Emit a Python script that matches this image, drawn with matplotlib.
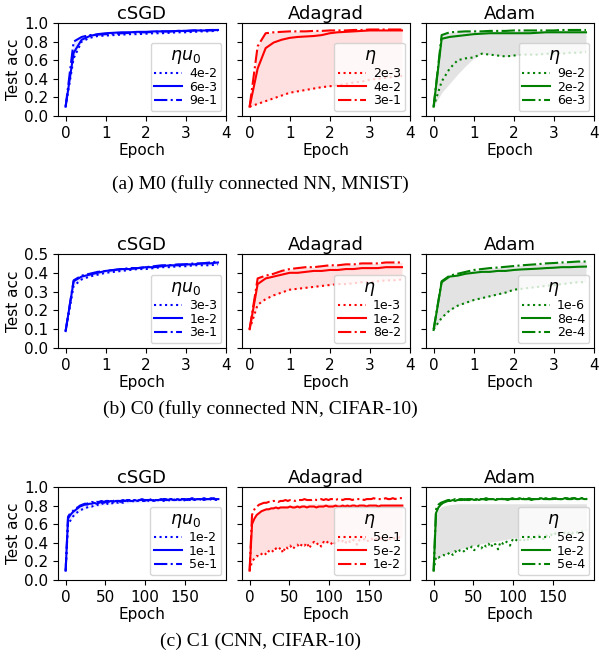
import numpy as np
import matplotlib
matplotlib.use("Agg")
import matplotlib.pyplot as plt

# ---------------- data ----------------
optimizers = ["cSGD", "Adagrad", "Adam"]
colors = ["blue", "red", "green"]
fill_colors = [("blue", 0.10), ("red", 0.12), ("gray", 0.22)]
legend_titles = [r"$\eta u_0$", r"$\eta$", r"$\eta$"]
captions = ["(a) M0 (fully connected NN, MNIST)",
            "(b) C0 (fully connected NN, CIFAR-10)",
            "(c) C1 (CNN, CIFAR-10)"]

# learning-rate labels: [dotted, solid, dash-dot]
m0_labels = [["4e-2", "6e-3", "9e-1"], ["2e-3", "4e-2", "3e-1"], ["9e-2", "2e-2", "6e-3"]]
c0_labels = [["3e-3", "1e-2", "3e-1"], ["1e-3", "1e-2", "8e-2"], ["1e-6", "8e-4", "2e-4"]]
c1_labels = [["1e-2", "1e-1", "5e-1"], ["5e-1", "5e-2", "1e-2"], ["5e-2", "1e-2", "5e-4"]]

# M0 / C0 : evaluated every 0.2 epoch (0 .. 3.8)
epoch_step_short = 0.2
m0_csgd_dot = [0.10, 0.62, 0.80, 0.84, 0.86, 0.865, 0.87, 0.875, 0.88, 0.88, 0.885, 0.89, 0.89, 0.895, 0.90, 0.90, 0.905, 0.91, 0.91, 0.92]
m0_csgd_solid = [0.10, 0.68, 0.82, 0.86, 0.88, 0.89, 0.895, 0.90, 0.90, 0.905, 0.905, 0.91, 0.91, 0.91, 0.915, 0.915, 0.92, 0.92, 0.92, 0.925]
m0_csgd_dash = [0.10, 0.80, 0.85, 0.87, 0.875, 0.88, 0.885, 0.89, 0.895, 0.90, 0.90, 0.905, 0.91, 0.91, 0.915, 0.915, 0.92, 0.92, 0.925, 0.925]

m0_ada_dot = [0.10, 0.13, 0.16, 0.19, 0.22, 0.25, 0.265, 0.28, 0.295, 0.31, 0.32, 0.33, 0.345, 0.36, 0.37, 0.39, 0.40, 0.41, 0.42, 0.43]
m0_ada_solid = [0.10, 0.51, 0.73, 0.79, 0.82, 0.84, 0.85, 0.855, 0.86, 0.87, 0.89, 0.90, 0.905, 0.91, 0.915, 0.92, 0.92, 0.92, 0.92, 0.92]
m0_ada_dash = [0.10, 0.75, 0.89, 0.90, 0.905, 0.91, 0.91, 0.91, 0.915, 0.915, 0.92, 0.92, 0.92, 0.925, 0.925, 0.93, 0.93, 0.93, 0.93, 0.93]

m0_adam_dot = [0.10, 0.37, 0.51, 0.60, 0.62, 0.63, 0.67, 0.66, 0.65, 0.64, 0.65, 0.66, 0.66, 0.66, 0.67, 0.67, 0.67, 0.68, 0.68, 0.69]
m0_adam_solid = [0.10, 0.83, 0.85, 0.86, 0.87, 0.88, 0.885, 0.89, 0.89, 0.89, 0.89, 0.89, 0.89, 0.895, 0.90, 0.90, 0.90, 0.90, 0.90, 0.90]
m0_adam_dash = [0.10, 0.87, 0.90, 0.905, 0.91, 0.91, 0.91, 0.915, 0.915, 0.915, 0.92, 0.92, 0.92, 0.92, 0.92, 0.92, 0.925, 0.925, 0.925, 0.925]
m0_adam_band_lo = [0.10, 0.25, 0.35, 0.45, 0.54, 0.62, 0.67, 0.66, 0.65, 0.64, 0.65, 0.66, 0.66, 0.66, 0.67, 0.67, 0.67, 0.68, 0.68, 0.69]

c0_csgd_dot = [0.09, 0.33, 0.365, 0.38, 0.39, 0.40, 0.405, 0.41, 0.415, 0.42, 0.42, 0.425, 0.43, 0.43, 0.435, 0.435, 0.44, 0.44, 0.44, 0.445]
c0_csgd_solid = [0.09, 0.355, 0.38, 0.39, 0.40, 0.41, 0.415, 0.42, 0.42, 0.425, 0.43, 0.43, 0.435, 0.44, 0.44, 0.445, 0.445, 0.45, 0.45, 0.455]
c0_csgd_dash = [0.09, 0.36, 0.385, 0.395, 0.405, 0.41, 0.415, 0.42, 0.425, 0.425, 0.43, 0.435, 0.44, 0.44, 0.445, 0.445, 0.45, 0.45, 0.455, 0.46]

c0_ada_dot = [0.10, 0.23, 0.26, 0.28, 0.295, 0.31, 0.315, 0.32, 0.325, 0.33, 0.335, 0.34, 0.34, 0.345, 0.35, 0.35, 0.355, 0.36, 0.36, 0.365]
c0_ada_solid = [0.10, 0.34, 0.37, 0.38, 0.39, 0.40, 0.40, 0.405, 0.41, 0.41, 0.415, 0.415, 0.42, 0.42, 0.425, 0.425, 0.425, 0.43, 0.43, 0.43]
c0_ada_dash = [0.10, 0.37, 0.385, 0.395, 0.41, 0.42, 0.425, 0.43, 0.43, 0.435, 0.44, 0.44, 0.445, 0.445, 0.45, 0.45, 0.45, 0.455, 0.455, 0.455]

c0_adam_dot = [0.10, 0.16, 0.20, 0.225, 0.24, 0.255, 0.265, 0.275, 0.285, 0.295, 0.31, 0.315, 0.32, 0.325, 0.33, 0.335, 0.34, 0.345, 0.35, 0.35]
c0_adam_solid = [0.096, 0.35, 0.38, 0.385, 0.395, 0.40, 0.405, 0.405, 0.41, 0.41, 0.415, 0.418, 0.42, 0.422, 0.425, 0.427, 0.43, 0.43, 0.432, 0.433]
c0_adam_dash = [0.10, 0.355, 0.385, 0.395, 0.405, 0.415, 0.42, 0.425, 0.428, 0.432, 0.436, 0.44, 0.443, 0.446, 0.45, 0.452, 0.455, 0.457, 0.46, 0.46]

# C1 : evaluated every 3 epochs (0 .. 192)
epoch_step_long = 3
c1_csgd_dot = [0.10, 0.60, 0.64, 0.68, 0.71, 0.73, 0.75, 0.76, 0.77, 0.78,
               0.79, 0.79, 0.80, 0.81, 0.80, 0.82, 0.82, 0.81, 0.83, 0.82,
               0.83, 0.84, 0.83, 0.84, 0.83, 0.84, 0.85, 0.84, 0.85, 0.84,
               0.85, 0.86, 0.85, 0.85, 0.84, 0.86, 0.85, 0.86, 0.85, 0.86,
               0.86, 0.85, 0.86, 0.86, 0.85, 0.86, 0.87, 0.86, 0.86, 0.85,
               0.86, 0.87, 0.86, 0.86, 0.87, 0.86, 0.87, 0.86, 0.87, 0.87,
               0.86, 0.87, 0.87, 0.86, 0.87]
c1_csgd_solid = [0.10, 0.66, 0.70, 0.73, 0.75, 0.77, 0.79, 0.80, 0.81, 0.81,
                 0.82, 0.82, 0.83, 0.82, 0.83, 0.84, 0.83, 0.84, 0.84, 0.85,
                 0.84, 0.85, 0.85, 0.84, 0.85, 0.85, 0.86, 0.85, 0.85, 0.86,
                 0.85, 0.86, 0.86, 0.85, 0.86, 0.86, 0.86, 0.85, 0.86, 0.86,
                 0.87, 0.86, 0.86, 0.86, 0.87, 0.86, 0.86, 0.87, 0.86, 0.87,
                 0.87, 0.86, 0.87, 0.87, 0.86, 0.87, 0.87, 0.87, 0.86, 0.87,
                 0.87, 0.88, 0.87, 0.87, 0.87]
c1_csgd_dash = [0.10, 0.68, 0.72, 0.74, 0.77, 0.78, 0.80, 0.81, 0.82, 0.82,
                0.83, 0.84, 0.83, 0.84, 0.84, 0.85, 0.84, 0.85, 0.85, 0.84,
                0.85, 0.86, 0.85, 0.85, 0.86, 0.85, 0.86, 0.86, 0.85, 0.86,
                0.86, 0.86, 0.87, 0.86, 0.86, 0.86, 0.87, 0.86, 0.86, 0.87,
                0.86, 0.87, 0.87, 0.86, 0.87, 0.87, 0.86, 0.87, 0.87, 0.87,
                0.86, 0.87, 0.87, 0.88, 0.87, 0.87, 0.87, 0.87, 0.88, 0.87,
                0.87, 0.87, 0.88, 0.87, 0.87]

c1_ada_dot = [0.10, 0.20, 0.23, 0.26, 0.25, 0.28, 0.30, 0.27, 0.31, 0.33,
              0.30, 0.34, 0.32, 0.35, 0.29, 0.36, 0.34, 0.37, 0.33, 0.36,
              0.38, 0.35, 0.39, 0.37, 0.40, 0.34, 0.39, 0.41, 0.38, 0.40,
              0.36, 0.41, 0.39, 0.42, 0.40, 0.37, 0.41, 0.43, 0.40, 0.42,
              0.39, 0.43, 0.41, 0.44, 0.42, 0.38, 0.43, 0.42, 0.44, 0.41,
              0.43, 0.45, 0.42, 0.44, 0.43, 0.45, 0.44, 0.42, 0.45, 0.44,
              0.46, 0.44, 0.45, 0.46, 0.45]
c1_ada_solid = [0.10, 0.60, 0.66, 0.70, 0.72, 0.74, 0.75, 0.76, 0.76, 0.77,
                0.77, 0.78, 0.77, 0.78, 0.78, 0.78, 0.78, 0.79, 0.78, 0.78,
                0.79, 0.78, 0.79, 0.79, 0.78, 0.79, 0.79, 0.79, 0.78, 0.79,
                0.79, 0.79, 0.80, 0.79, 0.79, 0.79, 0.80, 0.79, 0.79, 0.80,
                0.79, 0.80, 0.79, 0.80, 0.80, 0.79, 0.80, 0.80, 0.80, 0.79,
                0.80, 0.80, 0.80, 0.80, 0.79, 0.80, 0.80, 0.80, 0.80, 0.80,
                0.80, 0.80, 0.80, 0.80, 0.80]
c1_ada_dash = [0.10, 0.70, 0.76, 0.79, 0.81, 0.82, 0.83, 0.83, 0.84, 0.84,
               0.85, 0.85, 0.84, 0.85, 0.85, 0.86, 0.85, 0.86, 0.86, 0.85,
               0.86, 0.86, 0.86, 0.87, 0.86, 0.86, 0.86, 0.87, 0.86, 0.86,
               0.87, 0.86, 0.87, 0.86, 0.87, 0.87, 0.86, 0.87, 0.87, 0.86,
               0.87, 0.87, 0.87, 0.86, 0.87, 0.87, 0.87, 0.87, 0.86, 0.87,
               0.87, 0.87, 0.88, 0.87, 0.87, 0.87, 0.87, 0.88, 0.87, 0.87,
               0.88, 0.87, 0.88, 0.88, 0.88]

c1_adam_dot = [0.10, 0.25, 0.24, 0.26, 0.27, 0.26, 0.28, 0.30, 0.27, 0.31,
               0.29, 0.32, 0.33, 0.30, 0.34, 0.33, 0.36, 0.32, 0.35, 0.37,
               0.34, 0.38, 0.36, 0.39, 0.35, 0.40, 0.38, 0.33, 0.41, 0.39,
               0.42, 0.40, 0.37, 0.43, 0.41, 0.44, 0.42, 0.45, 0.43, 0.41,
               0.46, 0.44, 0.47, 0.45, 0.48, 0.46, 0.44, 0.48, 0.47, 0.49,
               0.47, 0.50, 0.48, 0.50, 0.49, 0.51, 0.49, 0.52, 0.50, 0.52,
               0.51, 0.53, 0.52, 0.53, 0.54]
c1_adam_solid = [0.10, 0.72, 0.78, 0.81, 0.83, 0.84, 0.85, 0.85, 0.86, 0.85,
                 0.86, 0.86, 0.86, 0.87, 0.86, 0.86, 0.87, 0.86, 0.87, 0.86,
                 0.87, 0.87, 0.86, 0.87, 0.87, 0.87, 0.86, 0.87, 0.87, 0.87,
                 0.87, 0.86, 0.87, 0.87, 0.87, 0.87, 0.88, 0.87, 0.87, 0.87,
                 0.87, 0.86, 0.87, 0.87, 0.87, 0.88, 0.87, 0.87, 0.87, 0.87,
                 0.87, 0.88, 0.87, 0.87, 0.87, 0.88, 0.87, 0.87, 0.87, 0.88,
                 0.87, 0.87, 0.88, 0.87, 0.87]
c1_adam_dash = [0.10, 0.76, 0.81, 0.83, 0.84, 0.85, 0.86, 0.86, 0.86, 0.87,
                0.86, 0.87, 0.87, 0.86, 0.87, 0.87, 0.87, 0.87, 0.86, 0.87,
                0.87, 0.87, 0.88, 0.87, 0.87, 0.87, 0.87, 0.87, 0.88, 0.87,
                0.87, 0.87, 0.87, 0.88, 0.87, 0.87, 0.87, 0.88, 0.87, 0.87,
                0.88, 0.87, 0.87, 0.87, 0.88, 0.87, 0.87, 0.88, 0.87, 0.87,
                0.88, 0.87, 0.88, 0.87, 0.87, 0.88, 0.88, 0.87, 0.88, 0.88,
                0.87, 0.88, 0.88, 0.88, 0.88]

# shaded bands for C1 (read at coarse epochs)
c1_band_epochs = [0, 3, 6, 10, 15, 20, 30, 40, 60, 80, 100, 125, 150, 175, 192]
c1_csgd_band_lo = [0.10, 0.60, 0.64, 0.69, 0.73, 0.75, 0.78, 0.80, 0.82, 0.83, 0.84, 0.85, 0.85, 0.86, 0.86]
c1_csgd_band_hi = [0.10, 0.66, 0.71, 0.74, 0.77, 0.79, 0.81, 0.83, 0.84, 0.85, 0.85, 0.86, 0.86, 0.86, 0.86]
c1_ada_band_lo = [0.10, 0.20, 0.23, 0.26, 0.28, 0.30, 0.33, 0.35, 0.37, 0.39, 0.40, 0.41, 0.42, 0.44, 0.45]
c1_ada_band_hi = [0.10, 0.62, 0.68, 0.72, 0.75, 0.77, 0.79, 0.80, 0.81, 0.82, 0.82, 0.82, 0.82, 0.82, 0.82]
c1_adam_band_lo = [0.10, 0.24, 0.24, 0.26, 0.28, 0.29, 0.32, 0.35, 0.39, 0.42, 0.45, 0.47, 0.49, 0.51, 0.53]
c1_adam_band_hi = [0.10, 0.70, 0.76, 0.79, 0.80, 0.81, 0.82, 0.82, 0.82, 0.82, 0.82, 0.82, 0.82, 0.82, 0.82]

rows = [
    dict(curves=[[m0_csgd_dot, m0_csgd_solid, m0_csgd_dash],
                 [m0_ada_dot, m0_ada_solid, m0_ada_dash],
                 [m0_adam_dot, m0_adam_solid, m0_adam_dash]],
         labels=m0_labels, step=epoch_step_short, ylim=(0, 1.0),
         yticks=np.arange(0, 1.01, 0.2), xticks=[0, 1, 2, 3, 4],
         bands=[None, None, (None, m0_adam_band_lo, None)]),
    dict(curves=[[c0_csgd_dot, c0_csgd_solid, c0_csgd_dash],
                 [c0_ada_dot, c0_ada_solid, c0_ada_dash],
                 [c0_adam_dot, c0_adam_solid, c0_adam_dash]],
         labels=c0_labels, step=epoch_step_short, ylim=(0, 0.5),
         yticks=np.arange(0, 0.51, 0.1), xticks=[0, 1, 2, 3, 4],
         bands=[None, None, None]),
    dict(curves=[[c1_csgd_dot, c1_csgd_solid, c1_csgd_dash],
                 [c1_ada_dot, c1_ada_solid, c1_ada_dash],
                 [c1_adam_dot, c1_adam_solid, c1_adam_dash]],
         labels=c1_labels, step=epoch_step_long, ylim=(0, 1.0),
         yticks=np.arange(0, 1.01, 0.2), xticks=[0, 50, 100, 150],
         bands=[(c1_band_epochs, c1_csgd_band_lo, c1_csgd_band_hi),
                (c1_band_epochs, c1_ada_band_lo, c1_ada_band_hi),
                (c1_band_epochs, c1_adam_band_lo, c1_adam_band_hi)]),
]

# ---------------- layout ----------------
W, H = 599, 666
fig = plt.figure(figsize=(W / 100, H / 100), dpi=100)

col_left = [58, 242, 426]
col_width = 168
row_top = [23, 254, 487]
row_bottom = [116, 348, 580]
caption_y = [184, 409, 641]
caption_x = 260

linestyles = [":", "-", "-."]

for r, row in enumerate(rows):
    for c in range(3):
        ax = fig.add_axes([col_left[c] / W, 1 - row_bottom[r] / H,
                           col_width / W, (row_bottom[r] - row_top[r]) / H])
        curves = [np.asarray(y, dtype=float) for y in row["curves"][c]]
        xs = [row["step"] * np.arange(len(y)) for y in curves]
        fc, fa = fill_colors[c]
        band = row["bands"][c]
        if band is None:
            n = min(len(y) for y in curves)
            stack = np.vstack([y[:n] for y in curves])
            ax.fill_between(xs[0][:n], stack.min(axis=0), stack.max(axis=0),
                            color=fc, alpha=fa, lw=0, zorder=1)
        elif band[0] is None:
            n = min(len(y) for y in curves)
            stack = np.vstack([y[:n] for y in curves] + [np.asarray(band[1][:n])])
            ax.fill_between(xs[0][:n], stack.min(axis=0), stack.max(axis=0),
                            color=fc, alpha=fa, lw=0, zorder=1)
        else:
            ax.fill_between(band[0], band[1], band[2], color=fc, alpha=fa,
                            lw=0, zorder=1)
        for k, (x, y) in enumerate(zip(xs, curves)):
            ax.plot(x, y, linestyle=linestyles[k], color=colors[c], lw=1.5,
                    label=row["labels"][c][k], zorder=3)
        ax.set_ylim(*row["ylim"])
        ax.set_yticks(row["yticks"])
        ax.set_xticks(row["xticks"])
        ax.tick_params(labelsize=11)
        if c == 0:
            ax.set_ylabel("Test acc", fontsize=11, labelpad=2)
        else:
            ax.set_yticklabels([])
        ax.set_xlabel("Epoch", fontsize=11, labelpad=2)
        ax.set_title(optimizers[c], fontsize=13, pad=3)
        leg = ax.legend(title=legend_titles[c], loc="lower right", fontsize=9,
                        title_fontsize=12.5, handlelength=2.2, labelspacing=0.05,
                        borderpad=0.3, handletextpad=0.6, borderaxespad=0.4)
    fig.text(caption_x / W, 1 - caption_y[r] / H, captions[r], ha="center",
             va="center", fontsize=14, family="Liberation Serif")

fig.savefig("out.png", dpi=100)
